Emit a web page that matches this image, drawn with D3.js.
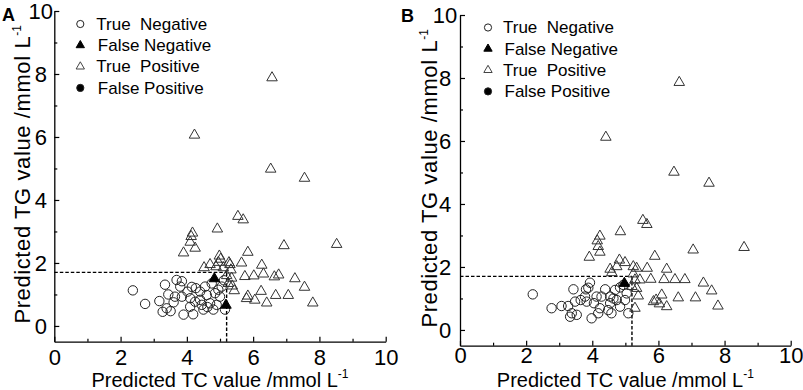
<!DOCTYPE html>
<html>
<head>
<meta charset="utf-8">
<script src="https://cdn.jsdelivr.net/npm/d3@7"></script>
<style>
  body { margin: 0; background: #fff; }
  svg { display: block; font-family: "Liberation Sans", Arial, sans-serif; }
</style>
</head>
<body>
<svg id="chart" width="803" height="390"></svg>
<script>
// axis ticks + thresholds
const xTicks = [0, 2, 4, 6, 8, 10];
const yTicks = [0, 2, 4, 6, 8, 10];
const minorTicks = [1, 3, 5, 7, 9];
const cutTC = 5.2;
const cutTG = 1.7;
const legendLabels = ["True  Negative", "False Negative", "True  Positive", "False Positive"];
const panelLabels = ["A", "B"];

// panel A data [TC, TG]
const tnA = [[2.37,1.13],[2.74,0.70],[3.17,0.79],[3.34,1.31],[3.44,1.0],[3.39,0.56],[3.27,0.45],[3.51,0.47],
  [3.69,1.46],[3.85,1.42],[3.80,1.25],[3.64,0.93],[3.85,0.93],[3.90,0.36],[4.02,1.09],[4.15,1.24],[4.10,0.88],
  [4.25,0.77],[4.10,0.61],[4.27,1.20],[4.40,1.09],[4.40,0.83],[4.45,0.67],[4.50,0.52],[4.60,0.98],[4.70,0.72],
  [4.55,1.25],[4.75,1.35],[4.85,1.04],[4.90,0.67],[4.80,0.52],[5.00,0.93],[5.05,1.25],[5.12,1.45],[5.15,0.52],
  [4.19,0.37],[4.62,0.60],[3.60,0.75],[4.95,1.15]];
const fnA = [[4.83,1.50],[5.18,0.66]];
const tpA = [[6.57,7.88],[4.23,6.06],[6.53,4.98],[7.55,4.69],[8.52,2.59],[6.93,2.55],[5.54,3.48],[5.70,3.37],
  [4.92,3.08],[4.17,2.95],[4.13,2.84],[4.10,2.66],[4.25,2.47],[3.90,2.32],[5.84,2.34],[4.98,2.22],[5.02,2.12],
  [4.95,2.02],[5.27,2.01],[5.65,2.00],[6.26,1.93],[4.70,1.95],[4.52,1.85],[5.33,1.78],[5.20,1.60],[5.35,1.52],
  [5.75,1.57],[6.02,1.59],[6.31,1.65],[6.64,1.56],[6.77,1.62],[7.26,1.50],[7.55,1.23],[5.37,1.27],[5.43,1.12],
  [6.24,1.10],[5.84,0.95],[5.80,0.87],[6.05,0.82],[6.41,0.73],[6.68,0.97],[7.06,0.97],[7.80,0.73],[5.10,1.85],
  [5.30,1.95],[4.88,1.88],[5.25,1.35]];
const fpA = [];

// panel B data [TC, TG]
const tnB = [[2.20,1.13],[2.77,0.69],[3.07,0.76],[3.27,0.76],[3.43,1.29],[3.48,0.90],[3.38,0.53],[3.53,0.48],
  [3.33,0.42],[3.81,1.29],[3.93,1.50],[3.88,1.34],[3.78,1.06],[3.83,0.90],[3.98,0.37],[4.13,1.06],[4.23,0.69],
  [4.18,0.53],[4.28,1.06],[4.39,1.29],[4.54,1.06],[4.54,0.85],[4.48,0.63],[4.58,0.53],[4.74,0.95],[4.84,0.74],
  [4.69,1.27],[4.84,1.35],[4.99,0.95],[5.04,1.16],[5.09,0.53],[4.94,1.43],[4.64,1.0],[4.05,0.85],[3.65,0.95]];
const fnB = [[4.97,1.48]];
const tpB = [[6.63,7.86],[4.41,6.12],[6.47,5.01],[7.53,4.66],[8.59,2.62],[7.05,2.54],[5.53,3.48],[5.65,3.35],
  [4.85,3.12],[4.23,2.98],[4.15,2.83],[4.18,2.65],[4.23,2.47],[3.91,2.31],[5.89,2.34],[4.82,2.22],[4.54,1.93],
  [4.74,2.01],[4.99,2.14],[5.24,2.01],[5.34,1.96],[5.66,1.96],[6.25,1.93],[4.59,1.82],[5.24,1.78],[5.29,1.59],
  [5.77,1.61],[6.17,1.60],[6.50,1.60],[6.80,1.60],[7.36,1.49],[7.61,1.24],[7.80,0.76],[7.12,1.02],[6.60,1.02],
  [6.25,0.74],[6.10,1.11],[5.85,0.90],[5.93,0.95],[6.03,0.83],[5.39,1.08],[5.29,0.69],[5.34,1.32],[5.44,1.59],
  [5.20,1.38]];
const fpB = [];

const panels = [
  { label: panelLabels[0], tn: tnA, fn: fnA, tp: tpA, fp: fpA,
    left: 54.3, right: 385.7, top: 11, bottom: 341.7, xPad: 7.5, yLabX: -13.5,
    labelX: 2, labelY: 21, xTitleY: 45, yTitleX: -24, legX: 26, legY: 13, legTextX: 42 },
  { label: panelLabels[1], tn: tnB, fn: fnB, tp: tpB, fp: fpB,
    left: 460, right: 790.7, top: 15, bottom: 345.7, xPad: 2, yLabX: -15,
    labelX: 401, labelY: 22, xTitleY: 41.5, yTitleX: -23, legX: 28, legY: 12.5, legTextX: 43 }
];

const svg = d3.select("#chart");
svg.append("rect").attr("width", 803).attr("height", 390).attr("fill", "#fff");

const tri = d3.symbol().type(d3.symbolTriangle);

function addTitle(sel, main) {
  sel.append("tspan").text(main);
  sel.append("tspan").attr("font-size", 12).attr("dy", -9).attr("letter-spacing", 0).text("-1");
}

panels.forEach(p => {
  const x = d3.scaleLinear().domain([0, 10]).range([p.left, p.right]);
  const y = d3.scaleLinear().domain([-0.5, 10]).range([p.bottom, p.top]);

  // axes, ticks inside
  const xAxis = svg.append("g").attr("transform", `translate(0,${p.bottom})`)
    .call(d3.axisBottom(x).tickValues(xTicks).tickSizeInner(-5).tickSizeOuter(0).tickPadding(p.xPad));
  svg.append("g").attr("transform", `translate(0,${p.bottom})`)
    .call(d3.axisBottom(x).tickValues(minorTicks).tickSizeInner(-3).tickSizeOuter(0).tickFormat(""))
    .call(g => g.select(".domain").remove());
  const yAxis = svg.append("g").attr("transform", `translate(${p.left},0)`)
    .call(d3.axisLeft(y).tickValues(yTicks).tickSizeInner(-5).tickSizeOuter(0));
  svg.append("g").attr("transform", `translate(${p.left},0)`)
    .call(d3.axisLeft(y).tickValues(minorTicks).tickSizeInner(-3).tickSizeOuter(0).tickFormat(""))
    .call(g => g.select(".domain").remove());

  svg.selectAll(".domain").attr("stroke", "#000").attr("stroke-width", 1.3);
  svg.selectAll(".tick line").attr("stroke", "#000").attr("stroke-width", 1.2);
  xAxis.selectAll("text").attr("font-size", 22).attr("fill", "#000")
    .attr("font-family", "Liberation Sans, Arial, sans-serif");
  yAxis.selectAll("text").attr("font-size", 22).attr("fill", "#000")
    .attr("font-family", "Liberation Sans, Arial, sans-serif")
    .attr("text-anchor", "middle").attr("x", p.yLabX).attr("dy", "0.36em");

  // axis titles
  addTitle(svg.append("text")
    .attr("x", (p.left + p.right) / 2).attr("y", p.bottom + p.xTitleY)
    .attr("text-anchor", "middle").attr("font-size", 20), "Predicted TC value /mmol L");
  addTitle(svg.append("text")
    .attr("transform", `translate(${p.left + p.yTitleX},${(p.top + p.bottom) / 2 - 2}) rotate(-90)`)
    .attr("text-anchor", "middle").attr("font-size", 22).attr("letter-spacing", 0.6),
    "Predicted TG value /mmol L");

  // panel letter
  svg.append("text").attr("x", p.labelX).attr("y", p.labelY)
    .attr("font-size", 18).attr("font-weight", "bold").text(p.label);

  // cutoff dashed lines
  svg.append("path")
    .attr("d", `M${x(0)},${y(cutTG)}H${x(cutTC)}M${x(cutTC)},${y(cutTG)}V${y(-0.5)}`)
    .attr("fill", "none").attr("stroke", "#000").attr("stroke-width", 1.4)
    .attr("stroke-dasharray", "3.5,2");

  // points
  svg.append("g").selectAll("circle").data(p.tn).join("circle")
    .attr("cx", d => x(d[0])).attr("cy", d => y(d[1])).attr("r", 4.7)
    .attr("fill", "none").attr("stroke", "#222").attr("stroke-width", 1);
  svg.append("g").selectAll("path").data(p.tp).join("path")
    .attr("d", tri.size(48)())
    .attr("transform", d => `translate(${x(d[0])},${y(d[1])})`)
    .attr("fill", "none").attr("stroke", "#333").attr("stroke-width", 1);
  svg.append("g").selectAll("circle").data(p.fp).join("circle")
    .attr("cx", d => x(d[0])).attr("cy", d => y(d[1])).attr("r", 4.7).attr("fill", "#000");
  svg.append("g").selectAll("path").data(p.fn).join("path")
    .attr("d", tri.size(48)())
    .attr("transform", d => `translate(${x(d[0])},${y(d[1])})`)
    .attr("fill", "#000").attr("stroke", "#000");

  // legend
  const leg = svg.append("g").attr("transform", `translate(${p.left},${p.top})`);
  const rowH = 21.3;
  legendLabels.forEach((lab, i) => {
    const cy = p.legY + i * rowH;
    if (i === 0 || i === 3) {
      leg.append("circle").attr("cx", p.legX).attr("cy", cy).attr("r", 3.6)
        .attr("fill", i === 3 ? "#000" : "none").attr("stroke", "#222").attr("stroke-width", 1);
    } else {
      leg.append("path").attr("d", tri.size(30)())
        .attr("transform", `translate(${p.legX},${cy})`)
        .attr("fill", i === 1 ? "#000" : "none").attr("stroke", i === 1 ? "#000" : "#444").attr("stroke-width", 1);
    }
    leg.append("text").attr("x", p.legTextX + (i % 2 ? 1.5 : 0)).attr("y", cy + 5.8)
      .attr("font-size", 17).style("white-space", "pre").text(lab);
  });
});
</script>
</body>
</html>
